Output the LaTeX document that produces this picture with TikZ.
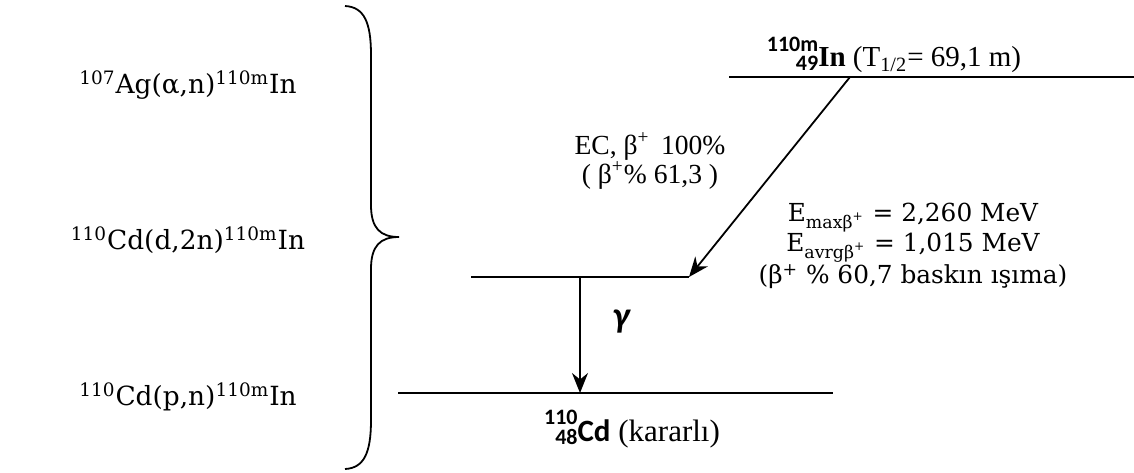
\documentclass[tikz,border=0pt]{standalone}
\usepackage{fontspec}
\setmainfont{Liberation Serif}
\newfontfamily\cambria{DejaVu Serif}
\newfontfamily\calibri{Carlito}
\usetikzlibrary{arrows.meta}

\newcommand{\nuclide}[3]{{\bfseries\raisebox{-1.8pt}{\calibri\fontsize{11}{11}\selectfont\renewcommand{\arraystretch}{0.74}\begin{tabular}[b]{@{}r@{}}#1\\#2\end{tabular}}#3}}

\tikzset{
  level/.style={line width=1pt},
  decay/.style={line width=0.9pt, -{Stealth[length=10pt, width=8pt]}},
  reaction/.style={font=\cambria\fontsize{13.2}{15}\selectfont},
  times/.style={font=\fontsize{14.5}{13.5}\selectfont, align=center},
  energy/.style={font=\cambria\fontsize{12.4}{15}\selectfont, align=center}
}

\begin{document}
\begin{tikzpicture}[x=0.5pt, y=-0.5pt]
    \useasboundingbox (0,0) rectangle (1134,472);

    % Nodes
    \node[reaction] (ag) at (188,85) {\textsuperscript{107}Ag(α,n)\textsuperscript{110m}In};
    \node[reaction] (cdd) at (188,240) {\textsuperscript{110}Cd(d,2n)\textsuperscript{110m}In};
    \node[reaction] (cdp) at (188,397) {\textsuperscript{110}Cd(p,n)\textsuperscript{110m}In};

    \node[times] (inlabel) at (894,56) {\nuclide{110m}{49}{In} (T\textsubscript{1/2}= 69,1 m)};
    \node[times, font=\fontsize{13.8}{13.5}\selectfont] (ec) at (650,161) {EC, β\textsuperscript{+}\, 100\%\\( β\textsuperscript{+}\% 61,3 )};
    \node[energy] (emax) at (913,246) {E\textsubscript{maxβ\textsuperscript{+}} = 2,260 MeV\\E\textsubscript{avrgβ\textsuperscript{+}} = 1,015 MeV\\(β\textsuperscript{+} \% 60,7 baskın ışıma)};
    \node[font=\calibri\bfseries\itshape\fontsize{18}{18}\selectfont] (gamma) at (621,322) {γ};
    \node[times, font=\fontsize{15.5}{15}\selectfont] (cdlabel) at (632,430) {\nuclide{110}{48}{\calibri Cd} (kararlı)};

    % Levels
    \coordinate (inL) at (729,77);
    \coordinate (inR) at (1134,77);
    \coordinate (in0) at (850,77);
    \coordinate (midL) at (471,277);
    \coordinate (midR) at (689,277);
    \coordinate (mid0) at (580,277);
    \coordinate (gsL) at (398,393);
    \coordinate (gsR) at (833,393);
    \coordinate (gs0) at (580,393);

    \draw[level] (inL) -- (inR);
    \draw[level] (midL) -- (midR);
    \draw[level] (gsL) -- (gsR);

    % Edges
    \draw[decay] (in0) -- (midR);
    \draw[decay] (mid0) -- (gs0);

    % Brace
    \draw[line width=0.9pt] (345,6) .. controls (364,7) and (371,22) .. (371,55) -- (371,205)
        .. controls (371,228) and (380,237) .. (399,237)
        .. controls (380,237) and (371,246) .. (371,269) -- (371,420)
        .. controls (371,453) and (364,468) .. (345,469);
\end{tikzpicture}
\end{document}
